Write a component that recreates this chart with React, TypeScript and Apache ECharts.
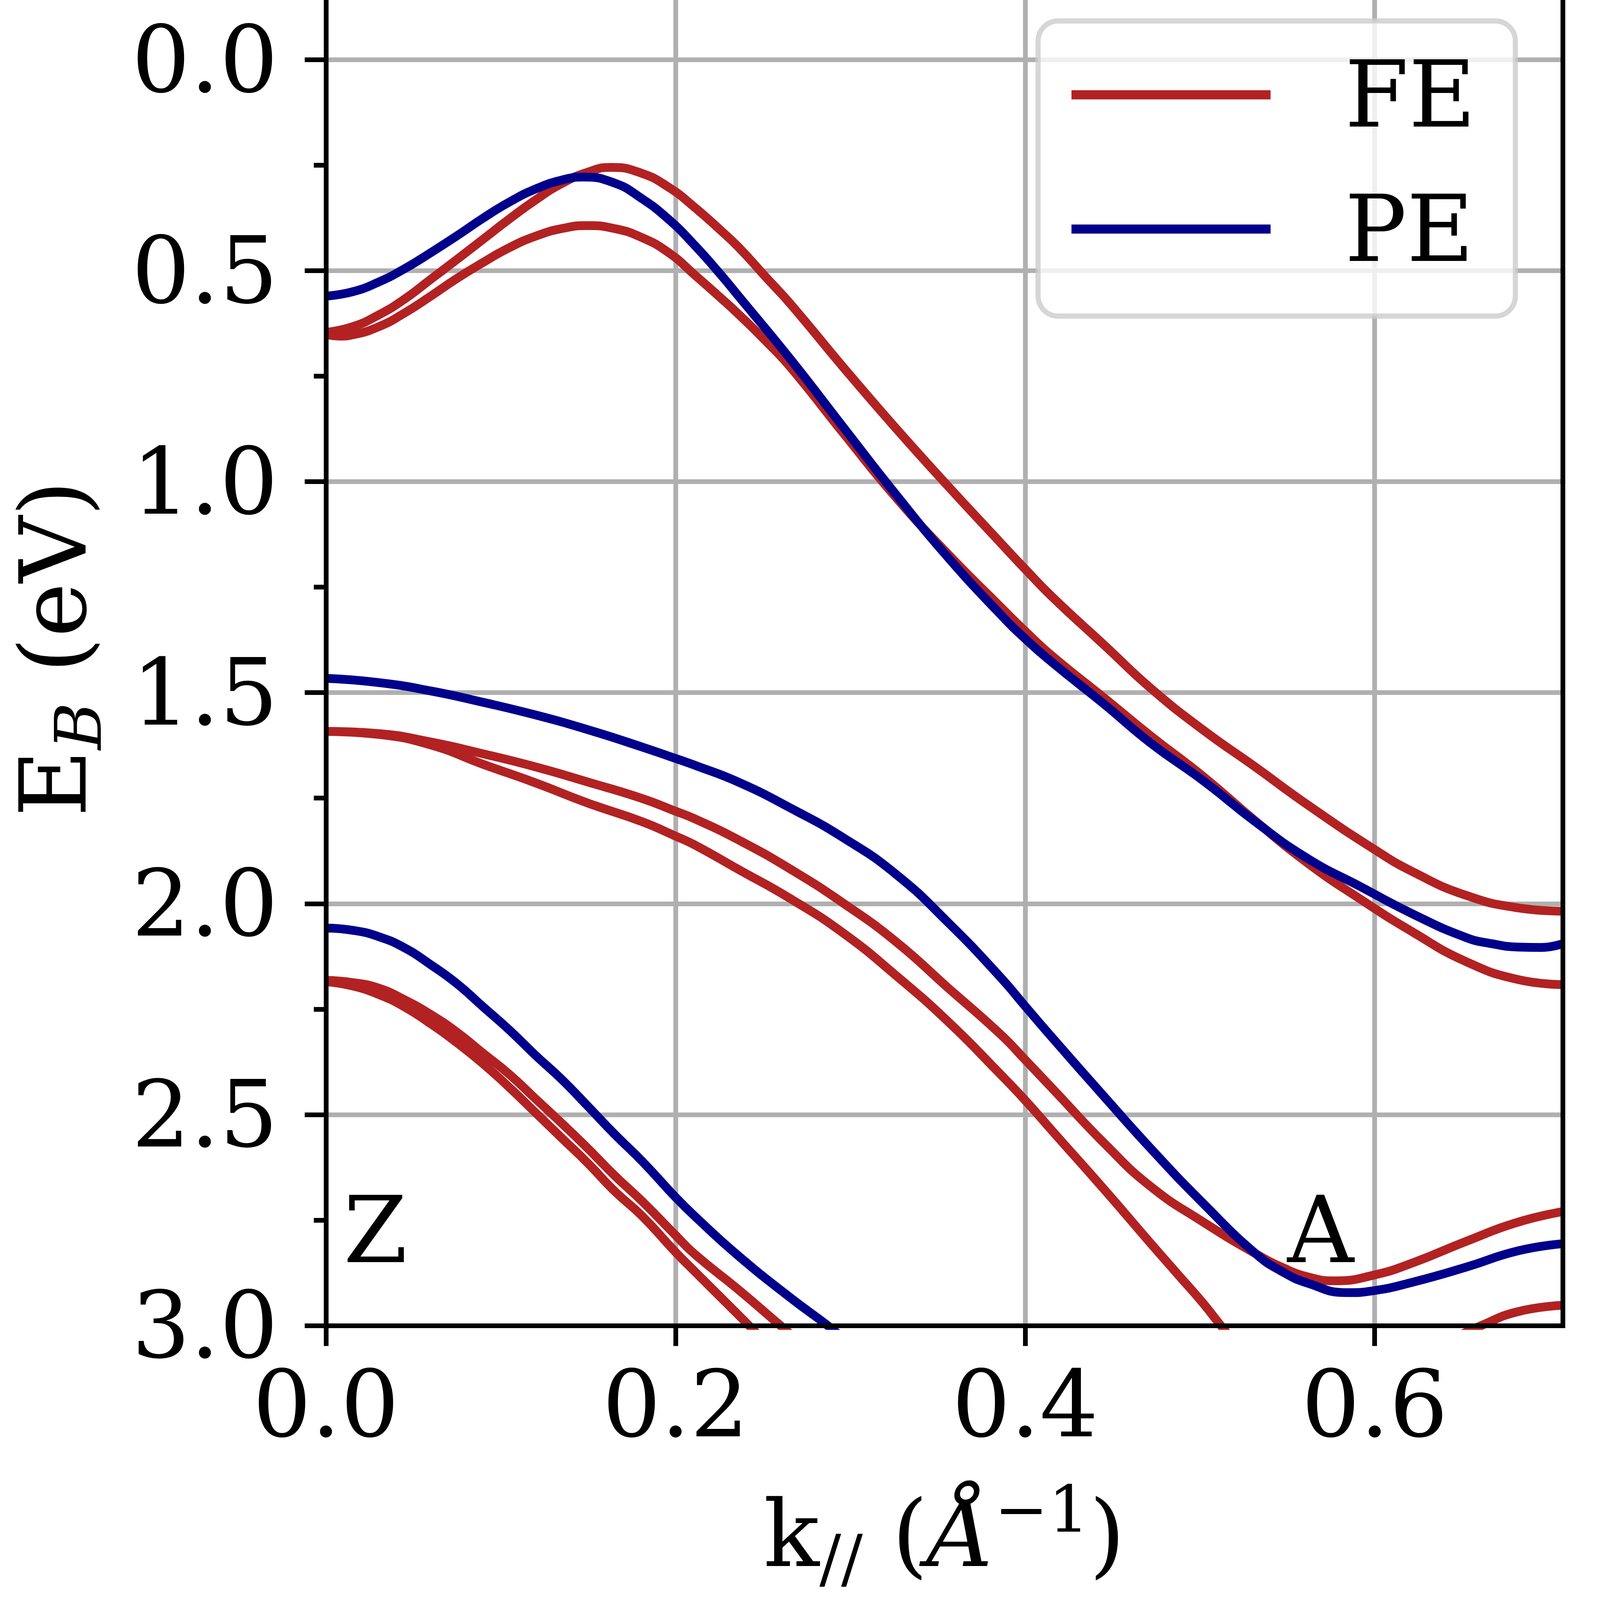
import React, { useEffect, useRef } from "react";
import * as echarts from "echarts";

const SERIF = "DejaVu Serif";
const FE_COLOR = "#b22222";
const PE_COLOR = "#00008b";
const GRID_COLOR = "#b0b0b0";

const X_TICKS = [0, 0.2, 0.4, 0.6];
const Y_TICKS = [0, 0.5, 1, 1.5, 2, 2.5, 3];
const K_MAX = 0.7076;
const E_MIN = -0.5;
const E_MAX = 3.0;

// ---- FE (ferroelectric) bands: [k, E_B] ----
const FE_1: number[][] = [
  [0, 0.646], [0.015, 0.633], [0.03, 0.605], [0.045, 0.567], [0.06, 0.52], [0.075, 0.473],
  [0.09, 0.425], [0.105, 0.377], [0.12, 0.332], [0.135, 0.293], [0.15, 0.266], [0.163, 0.255],
  [0.18, 0.268], [0.196, 0.302], [0.211, 0.35], [0.226, 0.405], [0.236, 0.444], [0.251, 0.512],
  [0.266, 0.58], [0.296, 0.729], [0.326, 0.873], [0.356, 1.011], [0.386, 1.145], [0.4, 1.207],
  [0.416, 1.275], [0.446, 1.39], [0.472, 1.49], [0.502, 1.589], [0.532, 1.677], [0.562, 1.767],
  [0.6, 1.872], [0.622, 1.925], [0.652, 1.98], [0.682, 2.01], [0.7076, 2.018],
];
const FE_2: number[][] = [
  [0, 0.651], [0.008, 0.655], [0.015, 0.652], [0.03, 0.633], [0.045, 0.6], [0.06, 0.56],
  [0.075, 0.518], [0.09, 0.48], [0.105, 0.445], [0.12, 0.418], [0.135, 0.4], [0.15, 0.393],
  [0.165, 0.4], [0.18, 0.42], [0.196, 0.457], [0.211, 0.51], [0.226, 0.565], [0.236, 0.603],
  [0.251, 0.664], [0.266, 0.73], [0.296, 0.885], [0.326, 1.037], [0.356, 1.172], [0.386, 1.297],
  [0.4, 1.354], [0.416, 1.415], [0.446, 1.515], [0.472, 1.603], [0.502, 1.699], [0.532, 1.805],
  [0.562, 1.905], [0.592, 1.99], [0.622, 2.068], [0.652, 2.137], [0.682, 2.18], [0.7076, 2.192],
];
const FE_3: number[][] = [
  [0, 1.592], [0.03, 1.597], [0.06, 1.617], [0.09, 1.645], [0.12, 1.676], [0.15, 1.712],
  [0.181, 1.751], [0.2, 1.781], [0.211, 1.799], [0.236, 1.849], [0.266, 1.919], [0.296, 1.999],
  [0.326, 2.09], [0.356, 2.2], [0.386, 2.31], [0.4, 2.37], [0.416, 2.44], [0.446, 2.571],
  [0.472, 2.671], [0.502, 2.755], [0.532, 2.83], [0.547, 2.862], [0.562, 2.885], [0.577, 2.894],
  [0.6, 2.88], [0.622, 2.851], [0.652, 2.801], [0.682, 2.755], [0.7076, 2.73],
];
const FE_4: number[][] = [
  [0, 1.592], [0.03, 1.599], [0.06, 1.624], [0.09, 1.67], [0.12, 1.714], [0.15, 1.762],
  [0.181, 1.806], [0.2, 1.84], [0.211, 1.861], [0.236, 1.919], [0.266, 1.989], [0.296, 2.07],
  [0.326, 2.17], [0.356, 2.28], [0.386, 2.405], [0.4, 2.466], [0.416, 2.541], [0.446, 2.681],
  [0.472, 2.806], [0.487, 2.877], [0.502, 2.948], [0.511, 2.995], [0.525, 3.065],
];
const FE_5: number[][] = [
  [0, 2.182], [0.015, 2.187], [0.03, 2.2], [0.045, 2.228], [0.06, 2.263], [0.075, 2.305],
  [0.09, 2.355], [0.105, 2.405], [0.12, 2.463], [0.135, 2.521], [0.15, 2.581], [0.165, 2.644],
  [0.181, 2.706], [0.2, 2.786], [0.211, 2.831], [0.236, 2.915], [0.26, 3.0], [0.28, 3.07],
];
const FE_6: number[][] = [
  [0, 2.185], [0.015, 2.195], [0.03, 2.215], [0.045, 2.245], [0.06, 2.285], [0.075, 2.33],
  [0.09, 2.38], [0.105, 2.436], [0.12, 2.496], [0.135, 2.556], [0.15, 2.616], [0.165, 2.681],
  [0.181, 2.741], [0.2, 2.826], [0.211, 2.872], [0.236, 2.975], [0.242, 3.0], [0.26, 3.075],
];
const FE_7: number[][] = [
  [0.64, 3.04], [0.661, 3.0], [0.682, 2.967], [0.7076, 2.952],
];

// ---- PE (paraelectric) bands ----
const PE_1: number[][] = [
  [0, 0.56], [0.015, 0.55], [0.03, 0.527], [0.045, 0.495], [0.06, 0.457], [0.075, 0.417],
  [0.09, 0.375], [0.105, 0.337], [0.12, 0.306], [0.135, 0.285], [0.147, 0.278], [0.165, 0.292],
  [0.18, 0.327], [0.196, 0.378], [0.211, 0.44], [0.226, 0.51], [0.236, 0.56], [0.266, 0.711],
  [0.296, 0.871], [0.326, 1.03], [0.356, 1.18], [0.386, 1.315], [0.4, 1.372], [0.416, 1.43],
  [0.446, 1.53], [0.472, 1.62], [0.502, 1.709], [0.532, 1.807], [0.562, 1.894], [0.592, 1.96],
  [0.622, 2.025], [0.652, 2.08], [0.667, 2.095], [0.682, 2.103], [0.695, 2.104], [0.7076, 2.095],
];
const PE_2: number[][] = [
  [0, 1.466], [0.03, 1.476], [0.06, 1.496], [0.09, 1.523], [0.12, 1.553], [0.15, 1.588],
  [0.181, 1.629], [0.2, 1.656], [0.211, 1.672], [0.236, 1.712], [0.266, 1.774], [0.296, 1.844],
  [0.326, 1.93], [0.356, 2.045], [0.386, 2.175], [0.4, 2.243], [0.416, 2.32], [0.446, 2.461],
  [0.472, 2.581], [0.502, 2.711], [0.532, 2.83], [0.547, 2.872], [0.562, 2.9], [0.584, 2.922],
  [0.6, 2.917], [0.622, 2.897], [0.652, 2.862], [0.682, 2.823], [0.7076, 2.806],
];
const PE_3: number[][] = [
  [0, 2.058], [0.015, 2.063], [0.03, 2.078], [0.045, 2.105], [0.06, 2.145], [0.075, 2.19],
  [0.09, 2.245], [0.105, 2.3], [0.12, 2.36], [0.135, 2.417], [0.15, 2.481], [0.165, 2.546],
  [0.181, 2.611], [0.2, 2.696], [0.211, 2.741], [0.236, 2.835], [0.266, 2.935], [0.287, 3.0],
  [0.3, 3.045],
];

const FE_BANDS = [FE_1, FE_2, FE_3, FE_4, FE_5, FE_6, FE_7];
const PE_BANDS = [PE_1, PE_2, PE_3];

// high-symmetry point annotations
const POINT_LABELS = ["Z", "A"];
const POINT_K = [0.01, 0.55];
const POINT_E = [2.85, 2.85];

// design size (reference picture, px)
const W = 4211;
const H = 4378;
const CROP_TOP = 414; // part of the axes that lies above the cropped figure

export default function App() {
  const ref = useRef<HTMLDivElement>(null);
  const vw = typeof window !== "undefined" && window.innerWidth > 0 ? window.innerWidth : W;
  const vh = typeof window !== "undefined" && window.innerHeight > 0 ? window.innerHeight : H;
  const sx = vw / W;
  const sy = vh / H;
  const sm = Math.min(sx, sy);
  const X = (v: number) => v * sx;
  const Y = (v: number) => v * sy;
  const L = (v: number) => v * sm;

  useEffect(() => {
    if (!ref.current) return;
    const chart = echarts.init(ref.current, null, { renderer: "svg" });

    const FS = L(252);
    const FS_SMALL = L(176);
    const txt = (size: number, extra: any = {}) => ({
      fontFamily: SERIF,
      fontSize: size,
      lineHeight: FS,
      color: "#000",
      ...extra,
    });
    const RICH = {
      n: txt(FS),
      i: txt(FS, { fontStyle: "italic" }),
      sub: txt(FS_SMALL, { padding: [L(134), 0, 0, 0] }),
      subi: txt(FS_SMALL, { fontStyle: "italic", padding: [L(134), 0, 0, 0] }),
      sup: txt(FS_SMALL, { padding: [0, 0, L(136), 0] }),
    };
    const fmt1 = (v: number) => v.toFixed(1);
    const TW = L(13); // spine / tick / grid width

    const lineSeries = (name: string, color: string, data: number[][]) => ({
      type: "line",
      name,
      data,
      xAxisIndex: 0,
      yAxisIndex: 0,
      symbol: "none",
      showSymbol: false,
      smooth: 0.5,
      clip: true,
      silent: true,
      z: 2,
      itemStyle: { color },
      lineStyle: { color, width: L(24), cap: "butt", join: "round" },
    });

    const spineAxis = (position: string) => ({
      type: "value",
      position,
      min: position === "bottom" ? 0 : E_MIN,
      max: position === "bottom" ? K_MAX : E_MAX,
      inverse: position !== "bottom",
      z: 5,
      axisLine: { show: true, onZero: false, lineStyle: { color: "#000", width: TW, cap: "square" } },
      axisTick: { show: false },
      axisLabel: { show: false },
      splitLine: { show: false },
      minorTick: { show: false },
    });

    const option: any = {
      animation: false,
      backgroundColor: "#fff",
      tooltip: { show: false },
      grid: {
        left: X(858),
        right: X(98),
        top: 0,
        bottom: Y(751),
        containLabel: false,
        outerBoundsMode: "none",
      },
      legend: {
        data: ["FE", "PE"],
        orient: "vertical",
        left: X(2732),
        top: Y(57 + CROP_TOP),
        icon: "rect",
        itemWidth: X(524),
        itemHeight: Y(25),
        itemGap: Y(367) - FS,
        selectedMode: false,
        padding: [Y(76), X(104), Y(112), X(88)],
        backgroundColor: "rgba(255,255,255,0.8)",
        borderColor: "rgba(204,204,204,0.8)",
        borderWidth: L(14),
        borderRadius: L(55),
        itemStyle: { borderWidth: 0 },
        textStyle: {
          fontFamily: SERIF,
          fontSize: FS,
          lineHeight: FS,
          color: "#000",
          padding: [0, 0, 0, X(190)],
          width: X(320),
        },
      },
      xAxis: [
        {
          type: "value",
          position: "bottom",
          min: 0,
          max: K_MAX,
          interval: 0.2,
          z: 0,
          axisLine: { show: false, onZero: false },
          axisTick: {
            show: true,
            customValues: X_TICKS,
            length: Y(56),
            lineStyle: { color: "#000", width: TW },
          },
          minorTick: { show: false },
          axisLabel: {
            show: true,
            customValues: X_TICKS,
            formatter: fmt1,
            margin: Y(90),
            fontFamily: SERIF,
            fontSize: FS,
            color: "#000",
          },
          splitLine: { show: true, lineStyle: { color: GRID_COLOR, width: TW } },
          name: "{n|k}{sub|//}{n| (}{i|Å}{sup|−1}{n|)}",
          nameLocation: "middle",
          nameGap: Y(445),
          nameMoveOverlap: false,
          nameTextStyle: { fontFamily: SERIF, fontSize: FS, lineHeight: FS, color: "#000", rich: RICH },
        },
        spineAxis("bottom"),
      ],
      yAxis: [
        {
          type: "value",
          position: "left",
          min: E_MIN,
          max: E_MAX,
          interval: 0.5,
          inverse: true,
          z: 0,
          axisLine: { show: false, onZero: false },
          axisTick: { show: true, length: X(56), lineStyle: { color: "#000", width: TW } },
          minorTick: {
            show: true,
            splitNumber: 2,
            length: X(32),
            lineStyle: { color: "#000", width: TW },
          },
          minorSplitLine: { show: false },
          axisLabel: {
            show: true,
            customValues: Y_TICKS,
            formatter: fmt1,
            margin: X(126),
            fontFamily: SERIF,
            fontSize: FS,
            color: "#000",
          },
          splitLine: { show: true, lineStyle: { color: GRID_COLOR, width: TW } },
          name: "{n|E}{subi|B}{n| (eV)}",
          nameLocation: "middle",
          nameRotate: 90,
          nameGap: X(595),
          nameMoveOverlap: false,
          nameTextStyle: {
            fontFamily: SERIF,
            fontSize: FS,
            lineHeight: FS,
            color: "#000",
            padding: [0, Y(336), 0, 0],
            rich: RICH,
          },
        },
        spineAxis("left"),
        spineAxis("right"),
      ],
      series: [
        ...FE_BANDS.map((d) => lineSeries("FE", FE_COLOR, d)),
        ...PE_BANDS.map((d) => lineSeries("PE", PE_COLOR, d)),
        {
          type: "custom",
          name: "points",
          xAxisIndex: 0,
          yAxisIndex: 0,
          silent: true,
          z: 6,
          clip: false,
          data: POINT_LABELS.map((t, i) => [POINT_K[i], POINT_E[i]]),
          renderItem: (params: any, api: any) => {
            const p = api.coord([api.value(0), api.value(1)]);
            return {
              type: "text",
              x: p[0],
              y: p[1] - L(87),
              style: {
                text: POINT_LABELS[params.dataIndex],
                fill: "#000",
                fontFamily: SERIF,
                fontSize: FS,
                align: "left",
                verticalAlign: "middle",
              },
            };
          },
        },
      ],
    };

    chart.setOption(option);
    return () => {
      chart.dispose();
    };
  }, []);

  return (
    <div
      style={{
        position: "fixed",
        left: 0,
        top: 0,
        width: X(W),
        height: Y(H),
        overflow: "hidden",
        background: "#fff",
      }}
    >
      <div
        ref={ref}
        style={{
          position: "absolute",
          left: 0,
          top: -Y(CROP_TOP),
          width: X(W),
          height: Y(H + CROP_TOP),
        }}
      />
    </div>
  );
}
